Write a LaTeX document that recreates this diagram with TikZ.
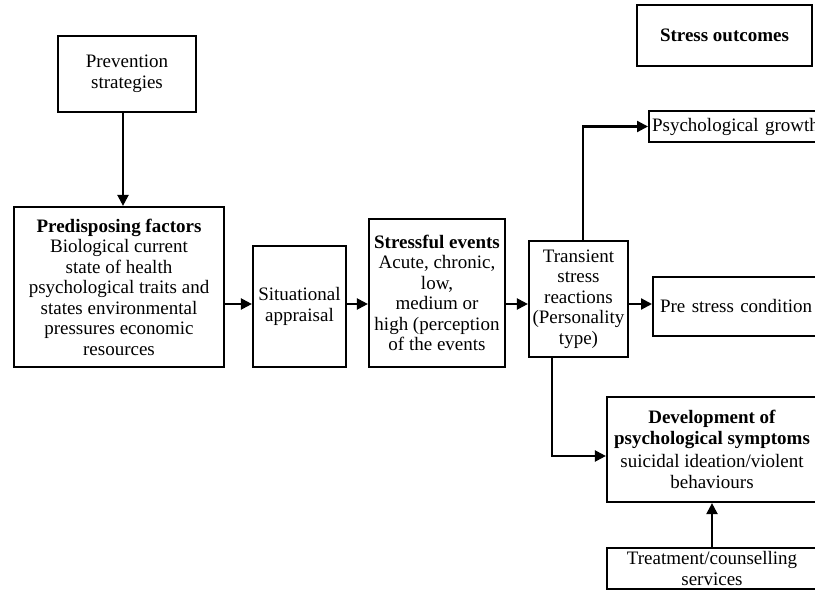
\documentclass[tikz,border=0pt]{standalone}
\usepackage{fontspec}
\setmainfont{Liberation Serif}
\usetikzlibrary{arrows.meta}
\tikzset{
  box/.style={draw, line width=2.2pt, inner sep=2pt, align=center,
    font=\fontsize{19}{20.5}\selectfont},
  arr/.style={line width=2.2pt, -{Triangle[length=11pt,width=11pt]}},
  ln/.style={line width=2.2pt}
}
\begin{document}
\begin{tikzpicture}[x=1pt,y=-1pt]
\useasboundingbox (0,0) rectangle (815,594);
\clip (0,0) rectangle (815,594);
\node[box, minimum width=138, minimum height=76] (prev) at (127,74) {Prevention\\strategies};
\node[box, minimum width=210, minimum height=160] (pred) at (119,287)
  {\textbf{Predisposing factors}\\Biological current\\state of health\\psychological traits and\\states environmental\\pressures economic\\resources};
\node[box, minimum width=93, minimum height=121, inner sep=1pt] (sit) at (299.5,306.5) {Situational\\appraisal};
\node[box, minimum width=136, minimum height=148, inner sep=1pt] (stress) at (437,293)
  {\textbf{Stressful events}\\Acute, chronic,\\low,\\medium or\\high (perception\\of the events};
\node[box, minimum width=99, minimum height=116, inner sep=0.5pt] (trans) at (578.5,299)
  {Transient\\stress\\reactions\\(Personality\\type)};
\node[box, minimum width=175, minimum height=61] (out) at (724.5,35.5) {\textbf{Stress outcomes}};
\node[box, anchor=west, minimum height=31, inner xsep=3pt, text width=180, align=left] (growth) at (648,126.5) {Psychological growth};
\node[box, anchor=west, minimum height=59, inner xsep=7pt, text width=180, align=left] (pre) at (652,306.5) {Pre stress condition};
\node[box, minimum width=210, minimum height=105] (dev) at (712,449.5)
  {\textbf{Development of}\\\textbf{psychological symptoms}\\[3pt]suicidal ideation/violent\\behaviours};
\node[box, minimum width=210, minimum height=41] (treat) at (712,568.5) {Treatment/counselling\\services};
\coordinate (p1) at (123,0);
\coordinate (h) at (0,304);
\coordinate (u1) at (583,0);
\coordinate (d1) at (552,0);
\coordinate (d2) at (0,456);
\draw[arr] (prev.south -| p1) -- (pred.north -| p1);
\draw[arr] (pred.east |- h) -- (sit.west |- h);
\draw[arr] (sit.east |- h) -- (stress.west |- h);
\draw[arr] (stress.east |- h) -- (trans.west |- h);
\draw[arr] (trans.east |- h) -- (pre.west |- h);
\draw[arr] (trans.north -| u1) |- (growth.west);
\draw[arr] (trans.south -| d1) |- (dev.west |- d2);
\draw[arr] (treat.north) -- (dev.south);
\end{tikzpicture}
\end{document}
